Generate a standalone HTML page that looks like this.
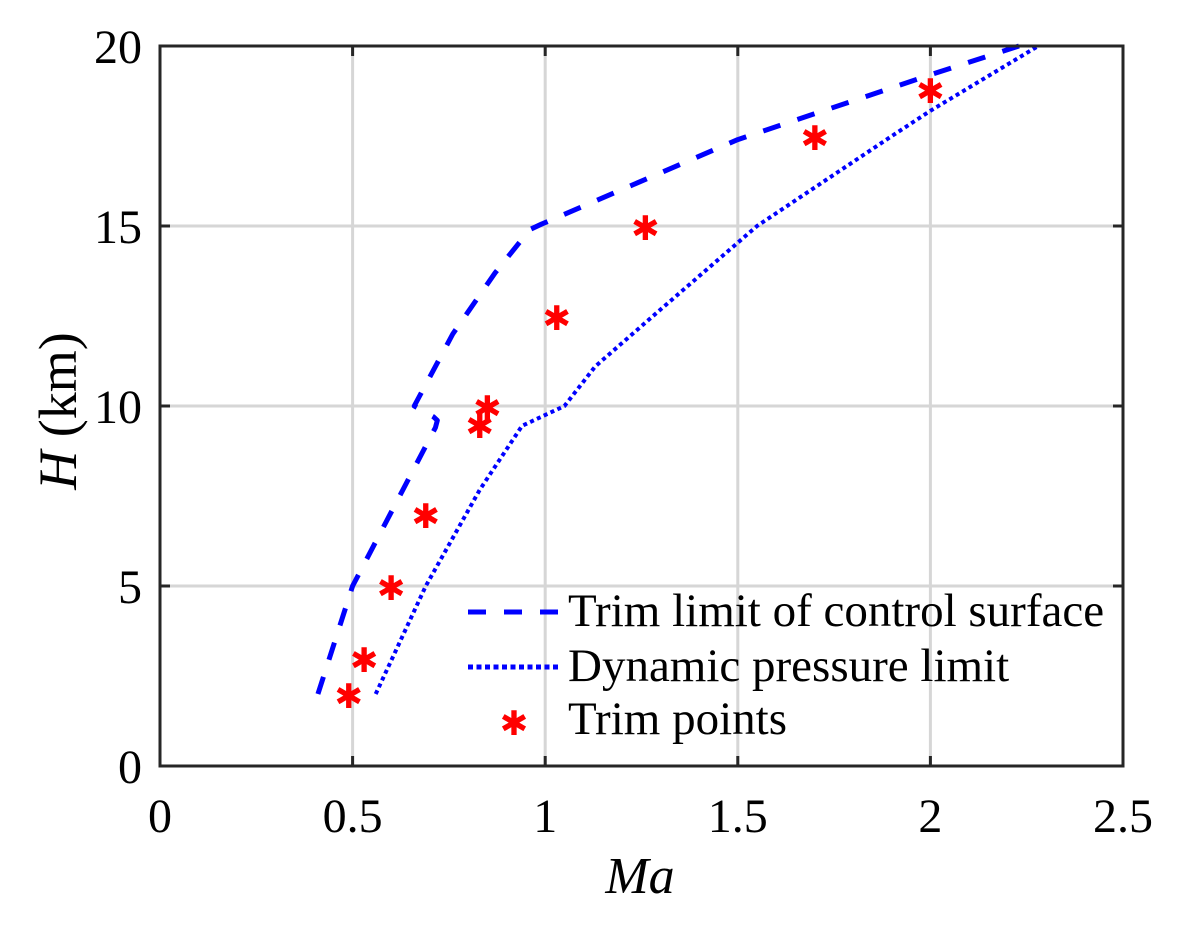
<!DOCTYPE html>
<html><head><meta charset="utf-8"><style>
body{margin:0;background:#fff}
svg text{font-family:"Liberation Serif",serif;fill:#000}
</style></head><body>
<svg width="1177" height="926" id="c">
<rect width="1177" height="926" fill="#fff"/>
<g id="grid"></g>
<g id="series"></g>
<rect x="160" y="46" width="963" height="720" fill="none" stroke="#262626" stroke-width="3"/>
<g id="ticks"></g>
<text x="640" y="893" font-size="52" font-style="italic" text-anchor="middle">Ma</text>
<text transform="translate(76,411) rotate(-90)" font-size="54" text-anchor="middle"><tspan font-style="italic">H</tspan> (km)</text>
<g>
<line x1="468" y1="612" x2="560" y2="612" stroke="#0000ff" stroke-width="5" stroke-dasharray="18,18"/>
<text x="568" y="626" font-size="47">Trim limit of control surface</text>
<line x1="468" y1="667" x2="560" y2="667" stroke="#0000ff" stroke-width="5" stroke-dasharray="5,3.5"/>
<text x="568" y="681" font-size="47">Dynamic pressure limit</text>
<text x="514" y="735" font-size="34" style="fill:#ff0000" text-anchor="middle">✱</text>
<text x="568" y="734" font-size="47">Trim points</text>
</g>
</svg>
<script>
const xTicks=[0,0.5,1,1.5,2,2.5];
const xTickLabels=["0","0.5","1","1.5","2","2.5"];
const yTicks=[0,5,10,15,20];
const yTickLabels=["0","5","10","15","20"];
const trimMa=[0.41,0.50,0.715,0.72,0.71,0.66,0.76,0.87,0.96,0.99,1.5,2.0,2.23];
const trimH=[2,5,9.4,9.6,9.7,10,12,13.7,14.9,15.05,17.4,19.2,20];
const dynMa=[0.56,0.69,0.83,0.94,1.05,1.13,1.28,1.55,1.9,2.0,2.28];
const dynH=[2,5,7.67,9.45,10,11.1,12.5,15,17.5,18.2,20];
const ptMa=[0.49,0.53,0.6,0.69,0.83,0.85,1.03,1.26,1.7,2.0];
const ptH=[2,3,5,7,9.5,10,12.5,15,17.5,18.8];
const NS="http://www.w3.org/2000/svg";
const X=v=>160+v/2.5*963, Y=v=>766-v/20*720;
function mk(t,a,p){const e=document.createElementNS(NS,t);for(const k in a)e.setAttribute(k,a[k]);document.getElementById(p).appendChild(e);return e;}
xTicks.forEach((v,i)=>{
 if(i>0&&i<xTicks.length-1){const g=mk('line',{x1:X(v),x2:X(v),y1:46,y2:766,stroke:'#d6d6d6','stroke-width':3},'grid');
 
 }
 const a=mk('line',{x1:X(v),x2:X(v),y1:766,y2:756,stroke:'#262626','stroke-width':3},'ticks');
 
 
 const b=mk('line',{x1:X(v),x2:X(v),y1:46,y2:56,stroke:'#262626','stroke-width':3},'ticks');
 
 
 const t=mk('text',{x:X(v),y:832,'font-size':48,'text-anchor':'middle'},'ticks');t.textContent=xTickLabels[i];
 
 
});
yTicks.forEach((v,i)=>{
 if(i>0&&i<yTicks.length-1){const g=mk('line',{x1:160,x2:1123,y1:Y(v),y2:Y(v),stroke:'#d6d6d6','stroke-width':3},'grid');
 
 }
 const a=mk('line',{x1:160,x2:170,y1:Y(v),y2:Y(v),stroke:'#262626','stroke-width':3},'ticks');
 
 
 const b=mk('line',{x1:1113,x2:1123,y1:Y(v),y2:Y(v),stroke:'#262626','stroke-width':3},'ticks');
 
 
 const t=mk('text',{x:142,y:Y(v)+17,'font-size':48,'text-anchor':'end'},'ticks');t.textContent=yTickLabels[i];
 
 
});
const p1=mk('polyline',{points:trimMa.map((m,i)=>X(m)+','+Y(trimH[i])).join(' '),fill:'none',stroke:'#0000ff','stroke-width':5,'stroke-dasharray':'18,18','stroke-linejoin':'round'},'series');


const p2=mk('polyline',{points:dynMa.map((m,i)=>X(m)+','+Y(dynH[i])).join(' '),fill:'none',stroke:'#0000ff','stroke-width':4,'stroke-dasharray':'4,3.5'},'series');


ptMa.forEach((m,i)=>{
 const t=mk('text',{x:X(m),y:Y(ptH[i])+14,'font-size':34,'text-anchor':'middle',style:'fill:#ff0000'},'series');t.textContent='✱';
 
 
});
</script>
</body></html>
